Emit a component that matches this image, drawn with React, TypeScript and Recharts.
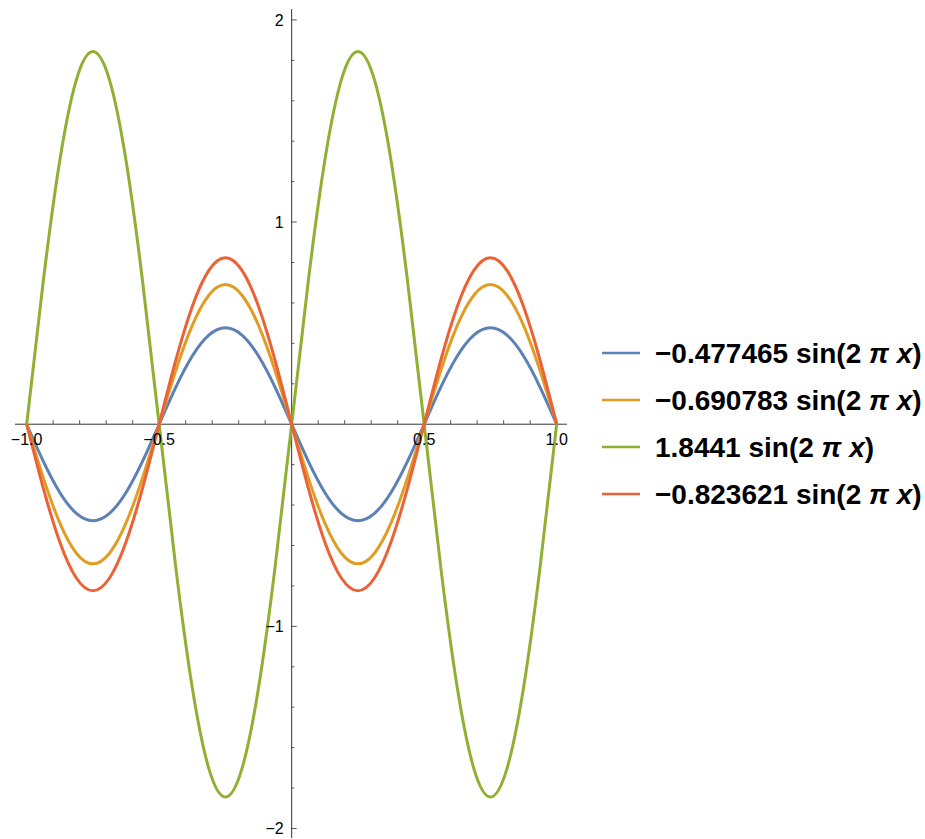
import React from "react";
import { LineChart, Line, XAxis, YAxis, ReferenceLine } from "recharts";

const X_VALUES = [
  -1, -0.9375, -0.875, -0.8125, -0.75, -0.6875, -0.625, -0.5625, -0.5, -0.4375, -0.375,
  -0.3125, -0.25, -0.1875, -0.125, -0.0625, 0, 0.0625, 0.125, 0.1875, 0.25, 0.3125, 0.375,
  0.4375, 0.5, 0.5625, 0.625, 0.6875, 0.75, 0.8125, 0.875, 0.9375, 1,
];

const BLUE_VALUES = [
  0, -0.1827, -0.3376, -0.4411, -0.4775, -0.4411, -0.3376, -0.1827, 0, 0.1827, 0.3376,
  0.4411, 0.4775, 0.4411, 0.3376, 0.1827, 0, -0.1827, -0.3376, -0.4411, -0.4775, -0.4411,
  -0.3376, -0.1827, 0, 0.1827, 0.3376, 0.4411, 0.4775, 0.4411, 0.3376, 0.1827, 0,
];

const ORANGE_VALUES = [
  0, -0.2643, -0.4885, -0.6382, -0.6908, -0.6382, -0.4885, -0.2643, 0, 0.2643, 0.4885,
  0.6382, 0.6908, 0.6382, 0.4885, 0.2643, 0, -0.2643, -0.4885, -0.6382, -0.6908, -0.6382,
  -0.4885, -0.2643, 0, 0.2643, 0.4885, 0.6382, 0.6908, 0.6382, 0.4885, 0.2643, 0,
];

const GREEN_VALUES = [
  0, 0.7057, 1.304, 1.7037, 1.8441, 1.7037, 1.304, 0.7057, 0, -0.7057, -1.304, -1.7037,
  -1.8441, -1.7037, -1.304, -0.7057, 0, 0.7057, 1.304, 1.7037, 1.8441, 1.7037, 1.304,
  0.7057, 0, -0.7057, -1.304, -1.7037, -1.8441, -1.7037, -1.304, -0.7057, 0,
];

const RED_VALUES = [
  0, -0.3152, -0.5824, -0.7609, -0.8236, -0.7609, -0.5824, -0.3152, 0, 0.3152, 0.5824,
  0.7609, 0.8236, 0.7609, 0.5824, 0.3152, 0, -0.3152, -0.5824, -0.7609, -0.8236, -0.7609,
  -0.5824, -0.3152, 0, 0.3152, 0.5824, 0.7609, 0.8236, 0.7609, 0.5824, 0.3152, 0,
];

const SERIES_COEFS = ["\u22120.477465", "\u22120.690783", "1.8441", "\u22120.823621"];
const SERIES_COLORS = ["#5E81B5", "#E19C24", "#8FB032", "#EB6235"];
const SERIES_KEYS = ["s0", "s1", "s2", "s3"];

const X_MAJOR_TICKS = [-1, -0.5, 0.5, 1];
const X_MAJOR_LABELS = ["\u22121.0", "\u22120.5", "0.5", "1.0"];
const X_MINOR_TICKS = [
  -0.9, -0.8, -0.7, -0.6, -0.4, -0.3, -0.2, -0.1, 0.1, 0.2, 0.3, 0.4, 0.6, 0.7, 0.8, 0.9,
];
const Y_MAJOR_TICKS = [-2, -1, 1, 2];
const Y_MAJOR_LABELS = ["\u22122", "\u22121", "1", "2"];
const Y_MINOR_TICKS = [
  -1.8, -1.6, -1.4, -1.2, -0.8, -0.6, -0.4, -0.2, 0.2, 0.4, 0.6, 0.8, 1.2, 1.4, 1.6, 1.8,
];

const X_DOMAIN: [number, number] = [-1.044, 1.039];
const Y_DOMAIN: [number, number] = [-2.047, 2.054];

const data = X_VALUES.map((x, i) => ({
  x,
  s0: BLUE_VALUES[i],
  s1: ORANGE_VALUES[i],
  s2: GREEN_VALUES[i],
  s3: RED_VALUES[i],
}));

const FONT = "'Liberation Sans', Arial, Helvetica, sans-serif";
const AXIS_COLOR = "#333333";
const TICK_COLOR = "#555555";

// tick lengths expressed in data units
const X_MAJOR_LEN = 0.03;
const X_MINOR_LEN = 0.02;
const Y_MAJOR_LEN = 0.019;
const Y_MINOR_LEN = 0.01;

export default function App() {
  return (
    <div style={{ position: "absolute", left: 0, top: 0, width: 925, height: 839, background: "#fff" }}>
      <LineChart
        width={925}
        height={839}
        data={data}
        margin={{ top: 9, right: 358, bottom: 1, left: 15 }}
      >
        <XAxis dataKey="x" type="number" domain={X_DOMAIN} hide allowDataOverflow />
        <YAxis type="number" domain={Y_DOMAIN} hide allowDataOverflow />
        <ReferenceLine y={0} stroke={AXIS_COLOR} strokeWidth={1} />
        <ReferenceLine x={0} stroke={AXIS_COLOR} strokeWidth={1} />
        {X_MINOR_TICKS.map((t) => (
          <ReferenceLine
            key={"xm" + t}
            segment={[{ x: t, y: 0 }, { x: t, y: X_MINOR_LEN }]}
            stroke={TICK_COLOR}
            strokeWidth={1}
          />
        ))}
        {X_MAJOR_TICKS.map((t, i) => (
          <ReferenceLine
            key={"xM" + t}
            segment={[{ x: t, y: 0 }, { x: t, y: X_MAJOR_LEN }]}
            stroke={TICK_COLOR}
            strokeWidth={1}
            label={{
              value: X_MAJOR_LABELS[i],
              position: "bottom",
              offset: 9,
              fill: "#000",
              fontSize: 16,
              fontFamily: FONT,
            }}
          />
        ))}
        {Y_MINOR_TICKS.map((t) => (
          <ReferenceLine
            key={"ym" + t}
            segment={[{ x: 0, y: t }, { x: Y_MINOR_LEN, y: t }]}
            stroke={TICK_COLOR}
            strokeWidth={1}
          />
        ))}
        {Y_MAJOR_TICKS.map((t, i) => (
          <ReferenceLine
            key={"yM" + t}
            segment={[{ x: 0, y: t }, { x: Y_MAJOR_LEN, y: t }]}
            stroke={TICK_COLOR}
            strokeWidth={1}
            label={{
              value: Y_MAJOR_LABELS[i],
              position: "left",
              offset: 8,
              fill: "#000",
              fontSize: 16,
              fontFamily: FONT,
            }}
          />
        ))}
        {SERIES_KEYS.map((k, i) => (
          <Line
            key={k}
            dataKey={k}
            name={SERIES_COEFS[i]}
            type="natural"
            stroke={SERIES_COLORS[i]}
            strokeWidth={3}
            dot={false}
            activeDot={false}
            isAnimationActive={false}
          />
        ))}
      </LineChart>
      <div
        style={{
          position: "absolute",
          left: 602,
          top: 330,
          fontFamily: FONT,
          fontWeight: "bold",
          fontSize: 28,
          color: "#000",
        }}
      >
        {SERIES_COEFS.map((c, i) => (
          <div
            key={c}
            style={{ height: 46.8, display: "flex", alignItems: "center", whiteSpace: "pre" }}
          >
            <svg width={38} height={4} style={{ marginRight: 15, flex: "none" }}>
              <line x1={0} y1={2} x2={38} y2={2} stroke={SERIES_COLORS[i]} strokeWidth={2.5} />
            </svg>
            <span style={{ position: "relative", top: 1 }}>
              {c + " sin(2 "}
              <i>{"\u03C0"}</i>
              {" "}
              <i>x</i>
              {")"}
            </span>
          </div>
        ))}
      </div>
    </div>
  );
}
